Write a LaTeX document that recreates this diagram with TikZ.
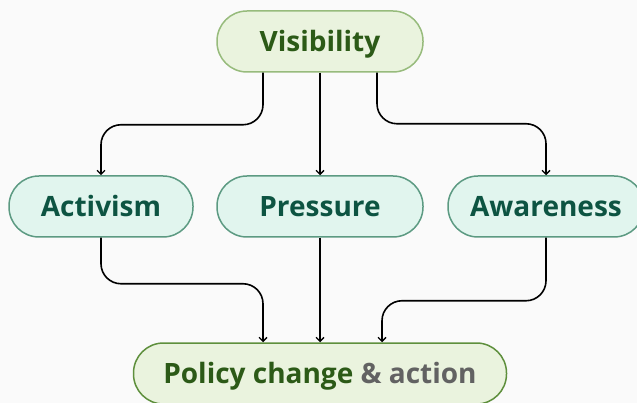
\documentclass[tikz,border=0pt]{standalone}
\usepackage{fontspec}
\setmainfont{Open Sans}
\usetikzlibrary{arrows.meta}

\definecolor{bgcol}{HTML}{FAFAFA}
\definecolor{topfill}{HTML}{EAF3DE}
\definecolor{topline}{HTML}{97BB7C}
\definecolor{botline}{HTML}{5E8F3C}
\definecolor{toptext}{HTML}{2C5A17}
\definecolor{midfill}{HTML}{E1F5EE}
\definecolor{midline}{HTML}{5C9A82}
\definecolor{midtext}{HTML}{0D5442}
\definecolor{amptext}{HTML}{626262}

\tikzset{
  pill/.style={rectangle, rounded corners=30pt, line width=1.5pt,
    minimum height=61pt, inner sep=0pt, text height=20pt, text depth=0pt,
    font=\fontsize{28}{32}\selectfont\bfseries},
  toppill/.style={pill, draw=topline, fill=topfill, text=toptext},
  midpill/.style={pill, draw=midline, fill=midfill, text=midtext},
  link/.style={draw=black, line width=1.6pt, rounded corners=20pt,
    -{Straight Barb[length=4pt,width=8pt,line width=1.4pt]}}
}

\begin{document}
\begin{tikzpicture}[x=1pt, y=-1pt]
        \fill[bgcol] (0,0) rectangle (637,403);
        \useasboundingbox (0,0) rectangle (637,403);

        % boxes
        \node[toppill, minimum width=206pt] (vis) at (320,41.5) {Visibility};
        \node[midpill, minimum width=184pt] (act) at (101,206.5) {Activism};
        \node[midpill, minimum width=206pt] (pre) at (320,206.5) {Pressure};
        \node[midpill, minimum width=196pt] (awa) at (546,206.5) {Awareness};
        \node[toppill, draw=botline, minimum width=373pt] (pol) at (320,373.5)
            {Policy change \textcolor{amptext}{\& action}};

        % top row of links
        \draw[link] ([xshift=-57pt]vis.south) -- ++(0,52) -| (act.north);
        \draw[link] (vis.south) -- (pre.north);
        \draw[link] ([xshift=57pt]vis.south) -- ++(0,51) -| (awa.north);

        % bottom row of links
        \draw[link] (act.south) -- ++(0,46) -| ([xshift=-57pt]pol.north);
        \draw[link] (pre.south) -- (pol.north);
        \draw[link] (awa.south) -- ++(0,63) -| ([xshift=62pt]pol.north);
    \end{tikzpicture}
\end{document}
